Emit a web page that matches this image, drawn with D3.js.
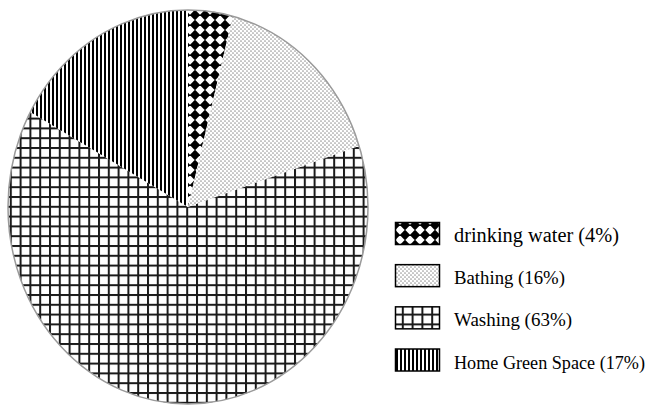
<!DOCTYPE html>
<html>
<head>
<meta charset="utf-8">
<script src="https://cdn.jsdelivr.net/npm/d3@7"></script>
<style>
  html, body { margin: 0; padding: 0; background: #fff; }
  svg { display: block; }
</style>
</head>
<body>
<svg id="chart" width="649" height="407"></svg>
<script>
// Household water use shares (%)
const categories = ["drinking water", "Bathing", "Washing", "Home Green Space"];
const shares = [4, 16, 63, 17];
const legendLabels = ["drinking water (4%)", "Bathing (16%)", "Washing (63%)", "Home Green Space (17%)"];
const patternIds = ["pat-diamond", "pat-dots", "pat-grid", "pat-stripes"];

const svg = d3.select("#chart");
const defs = svg.append("defs");

// Fill patterns
const pDiamond = defs.append("pattern").attr("id", "pat-diamond")
  .attr("patternUnits", "userSpaceOnUse").attr("width", 10).attr("height", 10);
pDiamond.append("rect").attr("width", 10).attr("height", 10).attr("fill", "#fff");
pDiamond.append("path").attr("d", "M5,-0.3L10.3,5L5,10.3L-0.3,5Z").attr("fill", "#000");

const pDots = defs.append("pattern").attr("id", "pat-dots")
  .attr("patternUnits", "userSpaceOnUse").attr("width", 4).attr("height", 4);
pDots.append("rect").attr("width", 4).attr("height", 4).attr("fill", "#fff");
pDots.append("circle").attr("cx", 1).attr("cy", 1).attr("r", 0.85).attr("fill", "#999");
pDots.append("circle").attr("cx", 3).attr("cy", 3).attr("r", 0.85).attr("fill", "#999");

const pGrid = defs.append("pattern").attr("id", "pat-grid")
  .attr("patternUnits", "userSpaceOnUse").attr("width", 9.8).attr("height", 9.8);
pGrid.append("rect").attr("width", 9.8).attr("height", 9.8).attr("fill", "#fff");
pGrid.append("rect").attr("x", 0).attr("y", 0).attr("width", 2).attr("height", 9.8).attr("fill", "#1a1a1a");
pGrid.append("rect").attr("x", 0).attr("y", 0).attr("width", 9.8).attr("height", 2).attr("fill", "#1a1a1a");

const pStripes = defs.append("pattern").attr("id", "pat-stripes")
  .attr("patternUnits", "userSpaceOnUse").attr("width", 4).attr("height", 4);
pStripes.append("rect").attr("width", 4).attr("height", 4).attr("fill", "#fff");
pStripes.append("rect").attr("x", 0).attr("width", 2).attr("height", 4).attr("fill", "#000");

// Pie geometry: an ellipse, drawn as a unit circle scaled per axis
const cx = 188, cy = 207, rx = 180, ry = 197;
const pie = d3.pie().sort(null).value(d => d);
const arcs = pie(shares);
const arc = d3.arc().innerRadius(0).outerRadius(rx);
const shapeTransform = `translate(${cx},${cy}) scale(1,${ry / rx})`;

arcs.forEach((a, i) => {
  defs.append("clipPath").attr("id", "slice-clip-" + i)
    .append("path").attr("d", arc(a)).attr("transform", shapeTransform);
});

const slices = svg.append("g").attr("class", "slices");
arcs.forEach((a, i) => {
  slices.append("rect")
    .attr("x", cx - rx - 2).attr("y", cy - ry - 2)
    .attr("width", 2 * rx + 4).attr("height", 2 * ry + 4)
    .attr("fill", `url(#${patternIds[i]})`)
    .attr("clip-path", `url(#slice-clip-${i})`);
});

// Outline of the pie
svg.append("ellipse")
  .attr("cx", cx).attr("cy", cy).attr("rx", rx).attr("ry", ry)
  .attr("fill", "none").attr("stroke", "#9a9a9a").attr("stroke-width", 1.5);

// Legend
const legendY = d3.scalePoint().domain(categories).range([233.5, 360]);
const labelWidths = [165, 111, 118, 191];
const legend = svg.append("g").attr("class", "legend");
categories.forEach((c, i) => {
  const y = legendY(c);
  legend.append("rect")
    .attr("x", 395.5).attr("y", y - 11).attr("width", 44).attr("height", 22)
    .attr("fill", `url(#${patternIds[i]})`)
    .attr("stroke", "#000").attr("stroke-width", 1.5);
  legend.append("text")
    .attr("x", 454).attr("y", y + 8.5)
    .attr("font-family", "'Liberation Serif', 'Times New Roman', serif")
    .attr("font-size", i === 0 ? 20 : 18)
    .attr("fill", "#000")
    .attr("textLength", labelWidths[i])
    .attr("lengthAdjust", "spacingAndGlyphs")
    .text(legendLabels[i]);
});
</script>
</body>
</html>
